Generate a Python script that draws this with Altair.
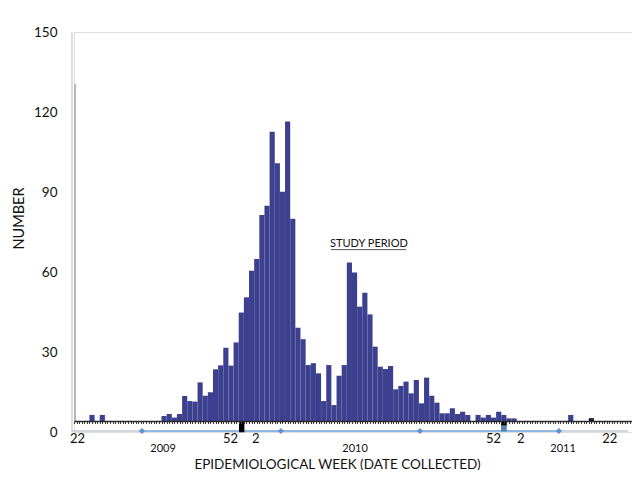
import altair as alt
import pandas as pd

# ---- data (x = week index counted from 2009 week 22) ----
week_index = [3, 5,
              17, 18, 19, 20, 21, 22, 23, 24, 25, 26, 27, 28, 29, 30, 31, 32, 33, 34,
              35, 36, 37, 38, 39, 40, 41, 42, 43, 44, 45, 46, 47, 48, 49, 50, 51, 52,
              53, 54, 55, 56, 57, 58, 59, 60, 61, 62, 63, 64, 65, 66, 67, 68, 69, 70,
              71, 72, 73, 74, 75, 76, 78, 79, 80, 81, 82, 83, 84, 85,
              96]
cases = [6.4, 6.4,
         6.0, 6.75, 5.4, 6.75, 13.5, 11.6, 11.4, 18.6, 13.6, 14.9, 23.5, 25.0, 31.6, 24.9, 33.6, 44.8, 50.5, 60.5,
         64.9, 81.4, 84.8, 112.6, 100.8, 90.1, 116.4, 80.0, 39.1, 34.8, 25.1, 25.8, 22.0, 11.6, 25.1, 10.1, 21.1, 25.1,
         63.6, 59.8, 47.0, 52.2, 44.1, 32.0, 24.5, 23.6, 24.75, 16.0, 17.25, 18.9, 14.5, 19.5, 10.75, 20.4, 13.6, 11.0,
         7.0, 7.0, 8.9, 6.75, 7.6, 6.4, 6.4, 5.4, 6.4, 5.4, 7.6, 6.4, 5.1, 5.1,
         6.4]
dark_week = [100]
dark_cases = [5.2]

week_labels = ["22", "52", "2", "52", "2", "22"]
week_label_pos = [0.7, 30.4, 35.3, 81.5, 86.8, 104.1]
year_labels = ["2009", "2010", "2011"]
year_label_pos = [17.3, 54.6, 95.0]
diamond_pos = [13.2, 40.2, 67.2, 94.2]
y_ticks = [0, 30, 60, 90, 120, 150]

FONT = "Lato"
NAVY = "#3c408e"
BASE = 4.1

bars_df = pd.DataFrame({"start": week_index, "count": cases})
bars_df["end"] = bars_df["start"] + 1
bars_df["base"] = BASE
dark_df = pd.DataFrame({"start": dark_week, "count": dark_cases})
dark_df["end"] = dark_df["start"] + 1
dark_df["base"] = BASE
wl_df = pd.DataFrame({"pos": week_label_pos, "label": week_labels})
yl_df = pd.DataFrame({"pos": year_label_pos, "label": year_labels})
dm_df = pd.DataFrame({"pos": diamond_pos, "y": [0.375] * len(diamond_pos)})

xscale = alt.Scale(domain=[0, 108.4], nice=False, zero=False)
yscale = alt.Scale(domain=[0, 150], nice=False, zero=True)

bars = alt.Chart(bars_df).mark_bar(color=NAVY).encode(
    x=alt.X("start:Q", scale=xscale,
            axis=alt.Axis(offset=-11, labels=False, tickCount=216, tickSize=2.5,
                          tickColor="#3a3a3a", tickWidth=1, domainColor="#2a2a2a",
                          domainWidth=1.6, grid=False, zindex=1,
                          title="EPIDEMIOLOGICAL WEEK (DATE COLLECTED)",
                          titleFont=FONT, titleFontSize=13.5, titleFontWeight="normal",
                          titleColor="#111111", titleX=263, titleY=43,
                          titleBaseline="middle")),
    x2="end:Q",
    y=alt.Y("count:Q", scale=yscale,
            axis=alt.Axis(values=y_ticks, ticks=False, domain=True, domainColor="#cccccc",
                          domainWidth=1.3, offset=2.5, grid=False, labelFont=FONT,
                          labelFontSize=13.5, labelColor="#111111", labelPadding=14.5,
                          title="NUMBER", titleFont=FONT, titleFontSize=14.5,
                          titleFontWeight="normal", titleColor="#111111",
                          titleX=-52.5, titleY=186, titleBaseline="middle")),
    y2="base:Q",
)

dark_bar = alt.Chart(dark_df).mark_bar(color="#17173a").encode(
    x=alt.X("start:Q", scale=xscale), x2="end:Q",
    y=alt.Y("count:Q", scale=yscale), y2="base:Q",
)

inner_line = alt.Chart().mark_rule(color="#a4a4a4", strokeWidth=1.5).encode(
    x=alt.datum(0.2, scale=xscale), y=alt.datum(130.5, scale=yscale), y2=alt.datum(BASE)
)

gray_left = alt.Chart().mark_rule(color="#c3cad4", strokeWidth=1.5).encode(
    x=alt.datum(-0.45), x2=alt.datum(13.2), y=alt.datum(0.375)
)
blue_mid = alt.Chart().mark_rule(color="#6f9fd6", strokeWidth=1.5).encode(
    x=alt.datum(13.2), x2=alt.datum(94.2), y=alt.datum(0.375)
)
gray_right = alt.Chart().mark_rule(color="#c3cad4", strokeWidth=1.5).encode(
    x=alt.datum(94.2), x2=alt.datum(107.6), y=alt.datum(0.375)
)

diamonds = alt.Chart(dm_df).mark_point(shape="diamond", filled=True, size=38,
                                       color="#5e92d0", opacity=1).encode(
    x=alt.X("pos:Q", scale=xscale), y=alt.Y("y:Q", scale=yscale)
)

marker1 = alt.Chart().mark_rect(color="#000000").encode(
    x=alt.datum(32.05), x2=alt.datum(33.1), y=alt.datum(BASE), y2=alt.datum(-0.1)
)
marker2 = alt.Chart().mark_rect(color="#000000").encode(
    x=alt.datum(82.96), x2=alt.datum(84.07), y=alt.datum(BASE), y2=alt.datum(2.36)
)
marker2b = alt.Chart().mark_rect(color="#5a82b4").encode(
    x=alt.datum(82.96), x2=alt.datum(84.07), y=alt.datum(2.36), y2=alt.datum(0.2)
)

wk_text = alt.Chart(wl_df).mark_text(font=FONT, fontSize=13, color="#111111",
                                     baseline="middle").encode(
    x=alt.X("pos:Q", scale=xscale), y=alt.value(407), text="label:N"
)
yr_text = alt.Chart(yl_df).mark_text(font=FONT, fontSize=11, color="#111111",
                                     baseline="middle").encode(
    x=alt.X("pos:Q", scale=xscale), y=alt.value(417), text="label:N"
)

study_text = alt.Chart().mark_text(font=FONT, fontSize=11, color="#111111",
                                   baseline="middle").encode(
    x=alt.datum(57.3), y=alt.datum(70.5), text=alt.value("STUDY PERIOD")
)
study_line = alt.Chart().mark_rule(color="#555555", strokeWidth=1).encode(
    x=alt.datum(49.9), x2=alt.datum(64.5), y=alt.datum(68.4)
)

chart = alt.layer(
    bars, dark_bar, inner_line, gray_left, blue_mid, gray_right, diamonds,
    marker1, marker2, marker2b, wk_text, yr_text, study_text, study_line
).properties(
    width=558, height=400,
    autosize=alt.AutoSizeParams(type="none"),
    padding={"left": 66, "top": 24, "right": 0, "bottom": 38},
).configure_view(stroke=None).configure(font=FONT)

chart.save("out.html", embed_options={"renderer": "svg", "actions": False})
